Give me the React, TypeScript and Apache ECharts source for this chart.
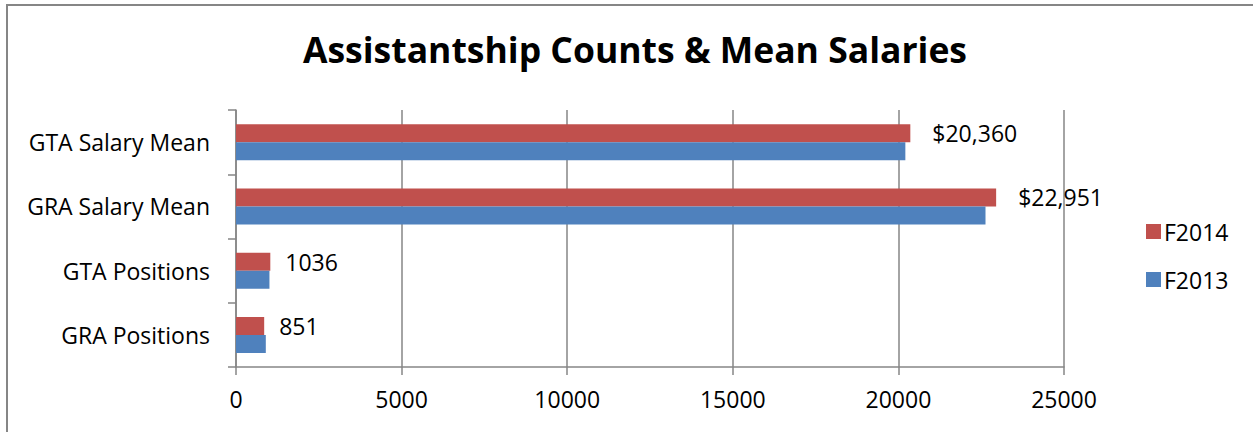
import React, { useEffect, useRef } from "react";
import * as echarts from "echarts";

const categories = ["GRA Positions", "GTA Positions", "GRA Salary Mean", "GTA Salary Mean"];
const f2014 = [851, 1036, 22951, 20360];
const f2013 = [900, 1010, 22630, 20210];
const xTicks = { min: 0, max: 25000, interval: 5000 };

const FONT = "Open Sans";
const GRAY = "#868686";
const FS = 23;

export default function App() {
  const ref = useRef<HTMLDivElement>(null);
  useEffect(() => {
    if (!ref.current) return;
    const chart = echarts.init(ref.current, null, { renderer: "svg" });
    const fmt = (p: any) => {
      const v = p.value as number;
      return v > 5000 ? "$" + v.toLocaleString("en-US") : String(v);
    };
    chart.setOption({
      animation: false,
      backgroundColor: "#ffffff",
      textStyle: { fontFamily: FONT },
      title: {
        text: "Assistantship Counts & Mean Salaries",
        left: 630,
        textAlign: "center",
        top: 26,
        textStyle: { fontFamily: FONT, fontSize: 35.5, fontWeight: "bold", color: "#000" },
      },
      graphic: [
        {
          type: "rect",
          shape: { x: 7, y: 5, width: 1260, height: 440 },
          style: { fill: "none", stroke: GRAY, lineWidth: 2 },
          silent: true,
        },
      ],
      legend: {
        orient: "vertical",
        left: 1141,
        top: 215,
        itemWidth: 15,
        itemHeight: 15,
        itemGap: 25,
        icon: "rect",
        data: ["F2014", "F2013"],
        textStyle: { fontFamily: FONT, fontSize: FS, color: "#000", padding: [0, 0, 0, -2] },
      },
      grid: { left: 236, right: 189, top: 110, bottom: 65, containLabel: false },
      xAxis: {
        type: "value",
        min: xTicks.min,
        max: xTicks.max,
        interval: xTicks.interval,
        axisLine: { show: true, lineStyle: { color: GRAY, width: 1.5 } },
        axisTick: { show: true, length: 8, lineStyle: { color: GRAY, width: 1.5 } },
        splitLine: { show: true, lineStyle: { color: GRAY, width: 1.5 } },
        axisLabel: {
          fontFamily: FONT,
          fontSize: FS,
          color: "#000",
          margin: 20,
          formatter: (v: number) => String(v),
        },
      },
      yAxis: {
        type: "category",
        data: categories,
        axisLine: { show: true, lineStyle: { color: GRAY, width: 1.5 } },
        axisTick: { show: true, length: 8, lineStyle: { color: GRAY, width: 1.5 } },
        axisLabel: { fontFamily: FONT, fontSize: FS, color: "#000", margin: 26 },
      },
      series: [
        {
          name: "F2014",
          type: "bar",
          data: f2014.map((v) => ({ value: v, label: { distance: v > 5000 ? 22 : 15 } })),
          barWidth: 18,
          barGap: "0%",
          itemStyle: { color: "#C0504D" },
          label: {
            show: true,
            position: "right",
            formatter: fmt,
            fontFamily: FONT,
            fontSize: FS,
            color: "#000",
          },
        },
        {
          name: "F2013",
          type: "bar",
          data: f2013,
          barWidth: 18,
          barGap: "0%",
          itemStyle: { color: "#4F81BD" },
        },
      ],
    });
    return () => chart.dispose();
  }, []);
  return (
    <div
      ref={ref}
      style={{ position: "fixed", left: 0, top: 0, width: 1253, height: 432, background: "#fff" }}
    />
  );
}
